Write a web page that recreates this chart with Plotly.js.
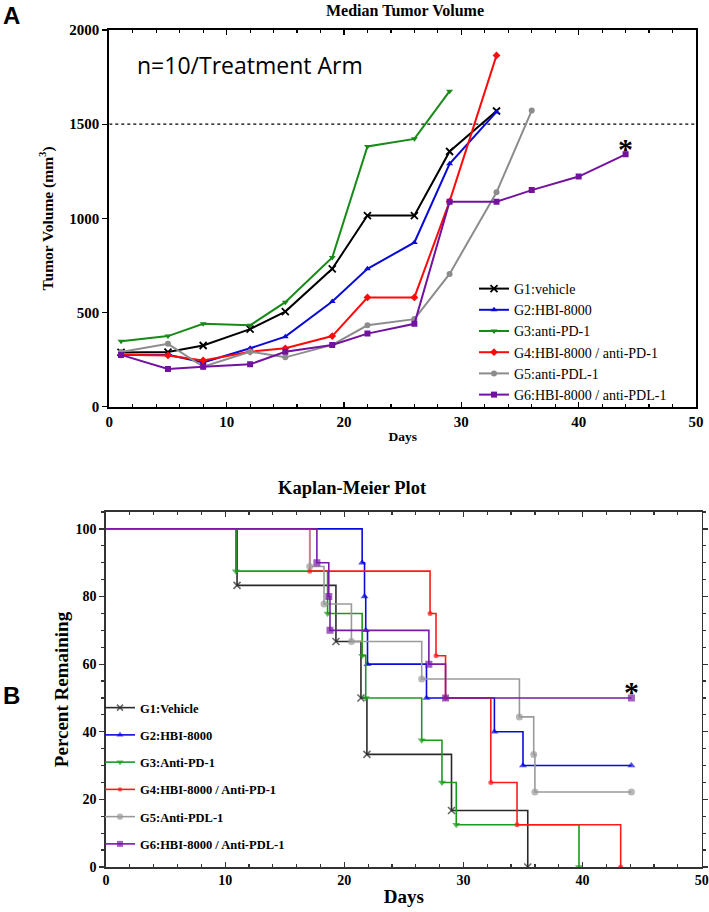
<!DOCTYPE html>
<html><head><meta charset="utf-8">
<script src="https://cdn.plot.ly/plotly-3.0.1.min.js"></script>
<style>html,body{margin:0;padding:0;background:#fff}#chart{width:709px;height:912px}</style>
</head><body><div id="chart"></div>
<script>
// ---------- Panel A: median tumor volume ----------
const groupNamesA = ['G1:vehicle','G2:HBI-8000','G3:anti-PD-1','G4:HBI-8000 / anti-PD-1','G5:anti-PDL-1','G6:HBI-8000 / anti-PDL-1'];
const measureDays = [1,5,8,12,15,19,22,26,29,33,36,40,44];
const g1Volume = [288, 290, 325, 412, 505, 732, 1015, 1015, 1355, 1570];
const g2Volume = [275, 276, 235, 310, 372, 558, 732, 872, 1290, 1565];
const g3Volume = [347, 375, 440, 432, 555, 792, 1382, 1422, 1675];
const g4Volume = [276, 272, 246, 292, 310, 375, 580, 580, 1090, 1865];
const g5Volume = [290, 334, 212, 292, 262, 328, 432, 465, 705, 1138, 1572];
const g6Volume = [275, 200, 212, 225, 292, 328, 388, 440, 1088, 1088, 1150, 1222, 1340];
const thresholdVolume = 1500;

// ---------- Panel B: Kaplan-Meier ----------
const groupNamesB = ['G1:Vehicle','G2:HBI-8000','G3:Anti-PD-1','G4:HBI-8000 / Anti-PD-1','G5:Anti-PDL-1','G6:HBI-8000 / Anti-PDL-1'];
const kmG1Days = [0, 11.0, 19.3, 21.4, 21.9, 29.0, 35.4];
const kmG1Pct  = [100, 83.3, 66.7, 50, 33.3, 16.7, 0];
const kmG2Days = [0, 21.5, 21.7, 21.8, 21.95, 26.9, 32.6, 35.0, 44.1];
const kmG2Pct  = [100, 90, 80, 70, 60, 50, 40, 30, 30];
const kmG3Days = [0, 10.9, 18.6, 21.5, 21.8, 26.5, 28.2, 29.4, 39.7];
const kmG3Pct  = [100, 87.5, 75, 62.5, 50, 37.5, 25, 12.5, 0];
const kmG4Days = [0, 17.1, 27.2, 27.7, 28.5, 32.3, 34.5, 43.2];
const kmG4Pct  = [100, 87.5, 75, 62.5, 50, 25, 12.5, 0];
const kmG5Days = [0, 17.1, 18.3, 20.6, 26.5, 34.7, 35.9, 36.0, 44.1];
const kmG5Pct  = [100, 88.9, 77.8, 66.7, 55.6, 44.4, 33.3, 22.2, 22.2];
const kmG6Days = [0, 17.7, 18.7, 18.8, 27.1, 28.5, 44.1];
const kmG6Pct  = [100, 90, 80, 70, 60, 50, 50];

const W = 709, H = 912;
const px = v => v / W;
const py = v => 1 - v / H;
const serif = 'Liberation Serif, Times New Roman, serif';

const colorsA = ['#000000', '#0a0ad8', '#178a17', '#ff0a0a', '#8c8c8c', '#7412a0'];
const colorsB = ['#2a2a2a', '#0a0ae0', '#1c9a1c', '#ff1a1a', '#9a9a9a', '#7a1aa6'];
const symbols = ['x-thin', 'triangle-up', 'triangle-down', 'diamond', 'circle', 'square'];
const volumes = [g1Volume, g2Volume, g3Volume, g4Volume, g5Volume, g6Volume];
const kmDays = [kmG1Days, kmG2Days, kmG3Days, kmG4Days, kmG5Days, kmG6Days];
const kmPct = [kmG1Pct, kmG2Pct, kmG3Pct, kmG4Pct, kmG5Pct, kmG6Pct];

const traces = [];
volumes.forEach((vol, i) => {
  traces.push({
    x: measureDays.slice(0, vol.length), y: vol,
    type: 'scatter', mode: 'lines+markers', name: groupNamesA[i],
    xaxis: 'x', yaxis: 'y', legend: 'legend', legendgroup: 'A' + i,
    line: {color: colorsA[i], width: 2},
    marker: {symbol: symbols[i], size: i === 0 ? 7 : 6, color: colorsA[i],
             line: {color: colorsA[i], width: i === 0 ? 1.8 : 0}}
  });
});
kmDays.forEach((d, i) => {
  const sizes = d.map((_, k) => k === 0 ? 0 : (i === 3 ? 5 : 7));
  traces.push({
    x: d, y: kmPct[i],
    type: 'scatter', mode: 'lines+markers', name: groupNamesB[i],
    xaxis: 'x2', yaxis: 'y2', legend: 'legend2', legendgroup: 'B' + i,
    line: {color: colorsB[i], width: 1.6, shape: 'hv'},
    marker: {symbol: i === 3 ? 'circle' : symbols[i], size: sizes, color: colorsB[i],
             line: {color: colorsB[i], width: i === 0 ? 1.6 : 0}}
  });
});

const tickFontA = {family: serif, size: 15, color: '#000', weight: 'bold'};
const tickFontB = {family: serif, size: 14, color: '#000', weight: 'bold'};

const layout = {
  width: W, height: H,
  margin: {l: 0, r: 0, t: 0, b: 0},
  paper_bgcolor: '#fff', plot_bgcolor: '#fff',
  showlegend: true,
  title: {text: 'Median Tumor Volume', x: px(405), y: py(10), xref: 'paper', yref: 'paper',
          xanchor: 'center', yanchor: 'middle',
          font: {family: serif, size: 16, color: '#000', weight: 'bold'}},
  xaxis: {domain: [px(109.3), px(696)], anchor: 'y', range: [0, 50], dtick: 10, tick0: 0,
          showgrid: false, zeroline: false, showline: true, linecolor: '#000', linewidth: 2, mirror: 'allticks',
          ticks: 'inside', ticklen: 5, tickwidth: 1.2, tickcolor: '#000',
          minor: {dtick: 2, ticks: 'inside', ticklen: 3, tickcolor: '#000', showgrid: false},
          tickfont: tickFontA,
          title: {text: 'Days', standoff: 3, font: {family: serif, size: 13.5, color: '#000', weight: 'bold'}}},
  yaxis: {domain: [py(406.7), py(30)], anchor: 'x', range: [0, 2000], dtick: 500, tick0: 0,
          showgrid: false, zeroline: false, showline: true, linecolor: '#000', linewidth: 2, mirror: true,
          ticks: 'outside', ticklen: 5, tickwidth: 1.2, tickcolor: '#000',
          tickfont: tickFontA,
          title: {text: 'Tumor Volume (mm<sup>3</sup>)', standoff: 12, font: {family: serif, size: 15.5, color: '#000', weight: 'bold'}}},
  xaxis2: {domain: [px(106), px(701.7)], anchor: 'y2', range: [0, 50], dtick: 10, tick0: 0,
          showgrid: false, zeroline: false, showline: true, linecolor: '#333', linewidth: 1.6, mirror: 'allticks',
          ticks: 'inside', ticklen: 5, tickwidth: 1.2, tickcolor: '#333',
          minor: {dtick: 2, ticks: 'inside', ticklen: 3, tickcolor: '#333', showgrid: false},
          tickfont: tickFontB,
          title: {text: 'Days', standoff: 2, font: {family: serif, size: 19, color: '#000', weight: 'bold'}}},
  yaxis2: {domain: [py(867), py(512)], anchor: 'x2', range: [0, 105], dtick: 20, tick0: 0,
          showgrid: false, zeroline: false, showline: true, linecolor: '#333', linewidth: 1.6, mirror: 'allticks',
          ticks: 'outside', ticklen: 5, tickwidth: 1.2, tickcolor: '#333',
          minor: {dtick: 5, ticks: 'outside', ticklen: 3, tickcolor: '#333', showgrid: false},
          tickfont: tickFontB,
          title: {text: 'Percent Remaining', standoff: 2, font: {family: serif, size: 19, color: '#000', weight: 'bold'}}},
  legend: {x: px(474), y: py(273), xanchor: 'left', yanchor: 'top', xref: 'paper', yref: 'paper',
           bgcolor: 'rgba(0,0,0,0)', borderwidth: 0, tracegroupgap: 0,
           font: {family: serif, size: 14, color: '#000'}},
  legend2: {x: px(100), y: py(693), xanchor: 'left', yanchor: 'top', xref: 'paper', yref: 'paper',
           bgcolor: 'rgba(0,0,0,0)', borderwidth: 0, tracegroupgap: 8,
           font: {family: serif, size: 12.5, color: '#000', weight: 'bold'}},
  shapes: [
    {type: 'line', xref: 'x', yref: 'y', x0: 0, x1: 50, y0: thresholdVolume, y1: thresholdVolume,
     line: {color: '#000', width: 1.3, dash: 'dot'}, layer: 'below'}
  ],
  annotations: [
    {text: 'A', xref: 'paper', yref: 'paper', x: px(1), y: py(0), xanchor: 'left', yanchor: 'top', showarrow: false,
     font: {family: 'Liberation Sans Narrow, Liberation Sans, sans-serif', size: 24, color: '#000', weight: 'bold'}},
    {text: 'B', xref: 'paper', yref: 'paper', x: px(1), y: py(680), xanchor: 'left', yanchor: 'top', showarrow: false,
     font: {family: 'Liberation Sans Narrow, Liberation Sans, sans-serif', size: 24, color: '#000', weight: 'bold'}},
    {text: 'n=10/Treatment Arm', xref: 'paper', yref: 'paper', x: px(135), y: py(65), xanchor: 'left', yanchor: 'middle',
     showarrow: false, font: {family: 'Open Sans, sans-serif', size: 23, color: '#000'}},
    {text: 'Kaplan-Meier Plot', xref: 'paper', yref: 'paper', x: px(352), y: py(488), xanchor: 'center', yanchor: 'middle',
     showarrow: false, font: {family: serif, size: 18.5, color: '#000', weight: 'bold'}},
    {text: '*', xref: 'x', yref: 'y', x: measureDays[g6Volume.length - 1], y: g6Volume[g6Volume.length - 1],
     xanchor: 'center', yanchor: 'middle', yshift: 6, showarrow: false,
     font: {family: serif, size: 30, color: '#000', weight: 'bold'}},
    {text: '*', xref: 'x2', yref: 'y2', x: kmG6Days[kmG6Days.length - 1], y: kmG6Pct[kmG6Pct.length - 1],
     xanchor: 'center', yanchor: 'middle', yshift: 6, showarrow: false,
     font: {family: serif, size: 30, color: '#000', weight: 'bold'}}
  ]
};

Plotly.newPlot('chart', traces, layout, {displayModeBar: false, staticPlot: true});
</script>
</body></html>
